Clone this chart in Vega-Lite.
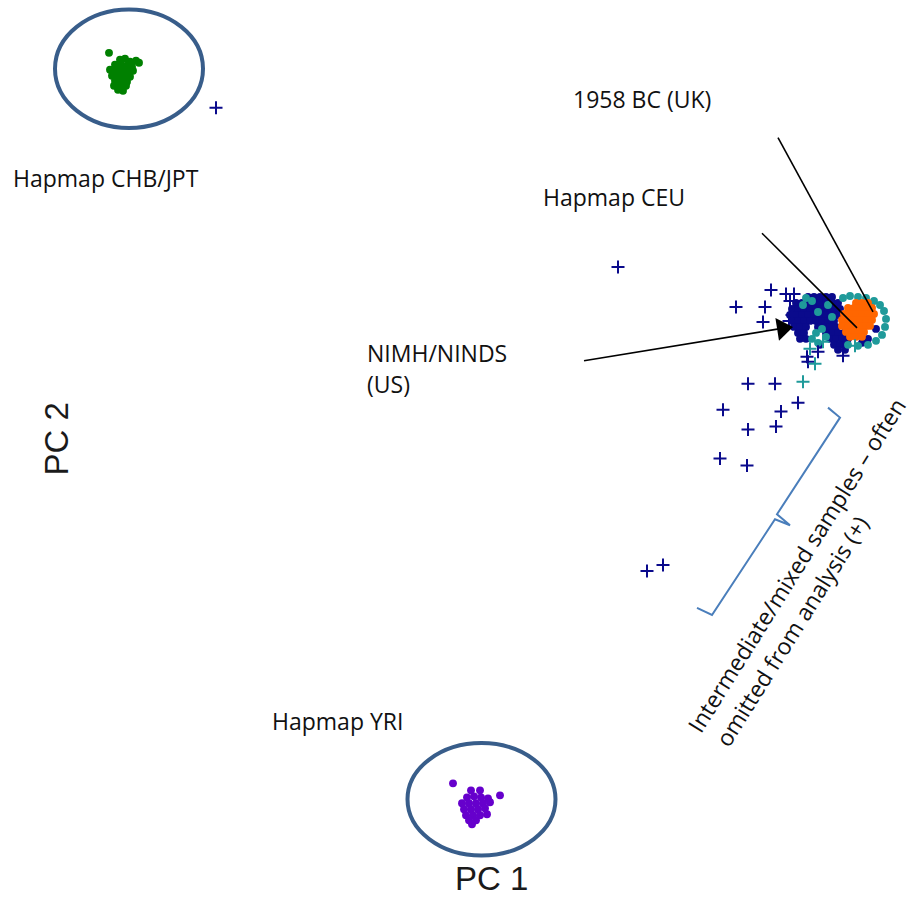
{
  "$schema": "https://vega.github.io/schema/vega-lite/v6.json",
  "width": 915,
  "height": 897,
  "autosize": {"type": "fit", "contains": "padding"},
  "padding": 0,
  "background": "white",
  "config": {"view": {"stroke": null}},
  "datasets": {
    "dots": [
      {"pc1":109,"pc2":53,"group":"CHB/JPT"},{"pc1":120,"pc2":60,"group":"CHB/JPT"},{"pc1":125,"pc2":59,"group":"CHB/JPT"},{"pc1":130,"pc2":62,"group":"CHB/JPT"},{"pc1":136,"pc2":61,"group":"CHB/JPT"},{"pc1":139,"pc2":63,"group":"CHB/JPT"},
      {"pc1":115,"pc2":65,"group":"CHB/JPT"},{"pc1":121,"pc2":65,"group":"CHB/JPT"},{"pc1":127,"pc2":66,"group":"CHB/JPT"},{"pc1":132,"pc2":67,"group":"CHB/JPT"},
      {"pc1":110,"pc2":70,"group":"CHB/JPT"},{"pc1":116,"pc2":70,"group":"CHB/JPT"},{"pc1":122,"pc2":71,"group":"CHB/JPT"},{"pc1":128,"pc2":72,"group":"CHB/JPT"},{"pc1":133,"pc2":71,"group":"CHB/JPT"},
      {"pc1":112,"pc2":76,"group":"CHB/JPT"},{"pc1":118,"pc2":76,"group":"CHB/JPT"},{"pc1":124,"pc2":77,"group":"CHB/JPT"},{"pc1":130,"pc2":77,"group":"CHB/JPT"},
      {"pc1":115,"pc2":81,"group":"CHB/JPT"},{"pc1":121,"pc2":82,"group":"CHB/JPT"},{"pc1":127,"pc2":82,"group":"CHB/JPT"},
      {"pc1":114,"pc2":86,"group":"CHB/JPT"},{"pc1":120,"pc2":87,"group":"CHB/JPT"},{"pc1":126,"pc2":86,"group":"CHB/JPT"},{"pc1":118,"pc2":90,"group":"CHB/JPT"},{"pc1":123,"pc2":91,"group":"CHB/JPT"},

      {"pc1":453,"pc2":786,"group":"YRI"},{"pc1":471,"pc2":793,"group":"YRI"},{"pc1":480,"pc2":793,"group":"YRI"},{"pc1":500,"pc2":798,"group":"YRI"},
      {"pc1":467,"pc2":800,"group":"YRI"},{"pc1":474,"pc2":799,"group":"YRI"},{"pc1":481,"pc2":800,"group":"YRI"},{"pc1":488,"pc2":801,"group":"YRI"},
      {"pc1":462,"pc2":806,"group":"YRI"},{"pc1":469,"pc2":806,"group":"YRI"},{"pc1":476,"pc2":806,"group":"YRI"},{"pc1":483,"pc2":806,"group":"YRI"},{"pc1":490,"pc2":805,"group":"YRI"},
      {"pc1":464,"pc2":812,"group":"YRI"},{"pc1":471,"pc2":812,"group":"YRI"},{"pc1":478,"pc2":812,"group":"YRI"},{"pc1":485,"pc2":811,"group":"YRI"},
      {"pc1":466,"pc2":818,"group":"YRI"},{"pc1":473,"pc2":818,"group":"YRI"},{"pc1":480,"pc2":818,"group":"YRI"},{"pc1":487,"pc2":817,"group":"YRI"},
      {"pc1":469,"pc2":823,"group":"YRI"},{"pc1":476,"pc2":823,"group":"YRI"},{"pc1":472,"pc2":827,"group":"YRI"},

      {"pc1":808,"pc2":298,"group":"NIMH"},{"pc1":814,"pc2":298,"group":"NIMH"},{"pc1":820,"pc2":298,"group":"NIMH"},{"pc1":826,"pc2":298,"group":"NIMH"},{"pc1":832,"pc2":298,"group":"NIMH"},
      {"pc1":796,"pc2":304,"group":"NIMH"},{"pc1":802,"pc2":304,"group":"NIMH"},{"pc1":808,"pc2":304,"group":"NIMH"},{"pc1":814,"pc2":304,"group":"NIMH"},{"pc1":820,"pc2":304,"group":"NIMH"},{"pc1":826,"pc2":304,"group":"NIMH"},{"pc1":832,"pc2":304,"group":"NIMH"},{"pc1":838,"pc2":304,"group":"NIMH"},
      {"pc1":792,"pc2":310,"group":"NIMH"},{"pc1":798,"pc2":310,"group":"NIMH"},{"pc1":804,"pc2":310,"group":"NIMH"},{"pc1":810,"pc2":310,"group":"NIMH"},{"pc1":816,"pc2":310,"group":"NIMH"},{"pc1":822,"pc2":310,"group":"NIMH"},{"pc1":828,"pc2":310,"group":"NIMH"},{"pc1":834,"pc2":310,"group":"NIMH"},{"pc1":840,"pc2":310,"group":"NIMH"},
      {"pc1":790,"pc2":316,"group":"NIMH"},{"pc1":796,"pc2":316,"group":"NIMH"},{"pc1":802,"pc2":316,"group":"NIMH"},{"pc1":808,"pc2":316,"group":"NIMH"},{"pc1":814,"pc2":316,"group":"NIMH"},{"pc1":820,"pc2":316,"group":"NIMH"},{"pc1":826,"pc2":316,"group":"NIMH"},{"pc1":832,"pc2":316,"group":"NIMH"},{"pc1":838,"pc2":316,"group":"NIMH"},
      {"pc1":792,"pc2":322,"group":"NIMH"},{"pc1":798,"pc2":322,"group":"NIMH"},{"pc1":804,"pc2":322,"group":"NIMH"},{"pc1":810,"pc2":322,"group":"NIMH"},{"pc1":816,"pc2":322,"group":"NIMH"},{"pc1":822,"pc2":322,"group":"NIMH"},{"pc1":828,"pc2":322,"group":"NIMH"},{"pc1":834,"pc2":322,"group":"NIMH"},
      {"pc1":794,"pc2":328,"group":"NIMH"},{"pc1":800,"pc2":328,"group":"NIMH"},{"pc1":806,"pc2":328,"group":"NIMH"},{"pc1":818,"pc2":328,"group":"NIMH"},{"pc1":824,"pc2":328,"group":"NIMH"},{"pc1":830,"pc2":328,"group":"NIMH"},{"pc1":836,"pc2":328,"group":"NIMH"},
      {"pc1":798,"pc2":334,"group":"NIMH"},{"pc1":804,"pc2":334,"group":"NIMH"},{"pc1":826,"pc2":334,"group":"NIMH"},{"pc1":832,"pc2":334,"group":"NIMH"},{"pc1":838,"pc2":334,"group":"NIMH"},{"pc1":844,"pc2":334,"group":"NIMH"},
      {"pc1":800,"pc2":340,"group":"NIMH"},{"pc1":806,"pc2":340,"group":"NIMH"},{"pc1":830,"pc2":340,"group":"NIMH"},{"pc1":836,"pc2":340,"group":"NIMH"},{"pc1":842,"pc2":340,"group":"NIMH"},{"pc1":848,"pc2":340,"group":"NIMH"},
      {"pc1":820,"pc2":346,"group":"NIMH"},{"pc1":834,"pc2":346,"group":"NIMH"},{"pc1":840,"pc2":346,"group":"NIMH"},{"pc1":846,"pc2":346,"group":"NIMH"},{"pc1":838,"pc2":351,"group":"NIMH"},{"pc1":845,"pc2":351,"group":"NIMH"},
      {"pc1":870,"pc2":318,"group":"NIMH"},{"pc1":876,"pc2":330,"group":"NIMH"},{"pc1":868,"pc2":340,"group":"NIMH"},{"pc1":862,"pc2":344,"group":"NIMH"},

      {"pc1":806,"pc2":299,"group":"1958BC"},{"pc1":812,"pc2":302,"group":"1958BC"},{"pc1":803,"pc2":306,"group":"1958BC"},
      {"pc1":843,"pc2":299,"group":"1958BC"},{"pc1":850,"pc2":297,"group":"1958BC"},{"pc1":858,"pc2":298,"group":"1958BC"},{"pc1":866,"pc2":299,"group":"1958BC"},{"pc1":874,"pc2":302,"group":"1958BC"},{"pc1":880,"pc2":306,"group":"1958BC"},
      {"pc1":884,"pc2":312,"group":"1958BC"},{"pc1":886,"pc2":320,"group":"1958BC"},{"pc1":885,"pc2":328,"group":"1958BC"},{"pc1":882,"pc2":336,"group":"1958BC"},{"pc1":876,"pc2":342,"group":"1958BC"},{"pc1":868,"pc2":346,"group":"1958BC"},{"pc1":858,"pc2":347,"group":"1958BC"},{"pc1":848,"pc2":346,"group":"1958BC"},
      {"pc1":822,"pc2":330,"group":"1958BC"},{"pc1":816,"pc2":334,"group":"1958BC"},{"pc1":812,"pc2":340,"group":"1958BC"},{"pc1":818,"pc2":344,"group":"1958BC"},{"pc1":826,"pc2":338,"group":"1958BC"},
      {"pc1":832,"pc2":318,"group":"1958BC"},{"pc1":828,"pc2":306,"group":"1958BC"},{"pc1":818,"pc2":313,"group":"1958BC"},

      {"pc1":856,"pc2":304,"group":"CEU"},{"pc1":862,"pc2":304,"group":"CEU"},{"pc1":868,"pc2":304,"group":"CEU"},
      {"pc1":848,"pc2":309,"group":"CEU"},{"pc1":854,"pc2":309,"group":"CEU"},{"pc1":860,"pc2":309,"group":"CEU"},{"pc1":866,"pc2":309,"group":"CEU"},{"pc1":872,"pc2":309,"group":"CEU"},
      {"pc1":844,"pc2":315,"group":"CEU"},{"pc1":850,"pc2":315,"group":"CEU"},{"pc1":856,"pc2":315,"group":"CEU"},{"pc1":862,"pc2":315,"group":"CEU"},{"pc1":868,"pc2":315,"group":"CEU"},{"pc1":874,"pc2":315,"group":"CEU"},
      {"pc1":842,"pc2":321,"group":"CEU"},{"pc1":848,"pc2":321,"group":"CEU"},{"pc1":854,"pc2":321,"group":"CEU"},{"pc1":860,"pc2":321,"group":"CEU"},{"pc1":866,"pc2":321,"group":"CEU"},{"pc1":872,"pc2":321,"group":"CEU"},
      {"pc1":842,"pc2":327,"group":"CEU"},{"pc1":848,"pc2":327,"group":"CEU"},{"pc1":854,"pc2":327,"group":"CEU"},{"pc1":860,"pc2":327,"group":"CEU"},{"pc1":866,"pc2":327,"group":"CEU"},{"pc1":870,"pc2":327,"group":"CEU"},
      {"pc1":846,"pc2":333,"group":"CEU"},{"pc1":852,"pc2":333,"group":"CEU"},{"pc1":858,"pc2":333,"group":"CEU"},{"pc1":864,"pc2":333,"group":"CEU"},
      {"pc1":850,"pc2":338,"group":"CEU"},{"pc1":856,"pc2":338,"group":"CEU"},{"pc1":862,"pc2":338,"group":"CEU"}
    ],
    "crosses": [
      {"pc1":216,"pc2":108,"group":"NIMH"},{"pc1":618,"pc2":268,"group":"NIMH"},{"pc1":771,"pc2":291,"group":"NIMH"},{"pc1":786,"pc2":295,"group":"NIMH"},{"pc1":794,"pc2":295,"group":"NIMH"},
      {"pc1":736,"pc2":308,"group":"NIMH"},{"pc1":765,"pc2":308,"group":"NIMH"},{"pc1":763,"pc2":323,"group":"NIMH"},{"pc1":790,"pc2":302,"group":"NIMH"},{"pc1":792,"pc2":316,"group":"NIMH"},{"pc1":789,"pc2":322,"group":"NIMH"},
      {"pc1":807,"pc2":358,"group":"NIMH"},{"pc1":818,"pc2":353,"group":"NIMH"},{"pc1":843,"pc2":357,"group":"NIMH"},{"pc1":808,"pc2":363,"group":"NIMH"},
      {"pc1":748,"pc2":385,"group":"NIMH"},{"pc1":775,"pc2":385,"group":"NIMH"},{"pc1":798,"pc2":404,"group":"NIMH"},{"pc1":723,"pc2":411,"group":"NIMH"},{"pc1":781,"pc2":413,"group":"NIMH"},
      {"pc1":748,"pc2":431,"group":"NIMH"},{"pc1":776,"pc2":428,"group":"NIMH"},{"pc1":720,"pc2":460,"group":"NIMH"},{"pc1":747,"pc2":467,"group":"NIMH"},{"pc1":647,"pc2":573,"group":"NIMH"},{"pc1":663,"pc2":567,"group":"NIMH"},
      {"pc1":815,"pc2":365,"group":"1958BC"},{"pc1":803,"pc2":383,"group":"1958BC"},{"pc1":810,"pc2":350,"group":"1958BC"},{"pc1":823,"pc2":343,"group":"1958BC"},{"pc1":855,"pc2":347,"group":"1958BC"}
    ],
    "rings": [
      {"pc1":129,"pc2":69,"ring":"CHB/JPT"},
      {"pc1":481.5,"pc2":802,"ring":"YRI"}
    ],
    "pointers": [
      {"pc1":778,"pc2":138,"pc1e":873,"pc2e":313},
      {"pc1":762,"pc2":234,"pc1e":857,"pc2e":329},
      {"pc1":584,"pc2":362,"pc1e":785,"pc2e":329}
    ],
    "heads": [{"pc1":793,"pc2":328}],
    "brace": [
      {"i":1,"pc1":828,"pc2":409},{"i":2,"pc1":840,"pc2":419},{"i":3,"pc1":777,"pc2":516},{"i":4,"pc1":790,"pc2":527},
      {"i":5,"pc1":775,"pc2":521},{"i":6,"pc1":712,"pc2":617},{"i":7,"pc1":697,"pc2":610}
    ],
    "labels": [
      {"pc1":13,"pc2":188,"label":"Hapmap CHB/JPT"},
      {"pc1":573,"pc2":108,"label":"1958 BC (UK)"},
      {"pc1":543,"pc2":207,"label":"Hapmap CEU"},
      {"pc1":367,"pc2":363,"label":"NIMH/NINDS"},
      {"pc1":367,"pc2":394,"label":"(US)"},
      {"pc1":272,"pc2":732,"label":"Hapmap YRI"}
    ],
    "note": [
      {"pc1":701,"pc2":737,"label":"Intermediate/mixed samples – often"},
      {"pc1":729,"pc2":751,"label":"omitted from analysis (+)"}
    ],
    "axisTitles": [
      {"pc1":455,"pc2":893,"label":"PC 1","rot":0},
      {"pc1":68,"pc2":477,"label":"PC 2","rot":-90}
    ]
  },
  "layer": [
    {
      "data": {"name": "rings"},
      "mark": {"type": "point", "filled": false, "stroke": "#385D8A", "strokeWidth": 4, "size": 21904, "opacity": 1},
      "encoding": {
        "x": {"field": "pc1", "type": "quantitative", "scale": {"domain": [0, 915], "nice": false, "zero": false}, "axis": null},
        "y": {"field": "pc2", "type": "quantitative", "scale": {"domain": [0, 897], "nice": false, "zero": false, "reverse": true}, "axis": null},
        "shape": {"field": "ring", "type": "nominal", "scale": {"domain": ["CHB/JPT", "YRI"], "range": ["M -1 0 A 1 0.8 0 1 1 1 0 A 1 0.8 0 1 1 -1 0 Z", "M -1 0 A 1 0.76 0 1 1 1 0 A 1 0.76 0 1 1 -1 0 Z"]}, "legend": null}
      }
    },
    {
      "data": {"name": "dots"},
      "mark": {"type": "circle", "size": 62, "opacity": 1},
      "encoding": {
        "x": {"field": "pc1", "type": "quantitative"},
        "y": {"field": "pc2", "type": "quantitative"},
        "color": {"field": "group", "type": "nominal", "scale": {"domain": ["CHB/JPT", "YRI", "NIMH", "1958BC", "CEU"], "range": ["#008000", "#6600CC", "#0A0A8C", "#1F9A9A", "#FF6600"]}, "legend": null}
      }
    },
    {
      "data": {"name": "crosses"},
      "mark": {"type": "point", "shape": "M -1 0 L 1 0 M 0 -1 L 0 1", "filled": false, "strokeWidth": 2, "size": 169, "opacity": 1},
      "encoding": {
        "x": {"field": "pc1", "type": "quantitative"},
        "y": {"field": "pc2", "type": "quantitative"},
        "color": {"field": "group", "type": "nominal", "legend": null}
      }
    },
    {
      "data": {"name": "pointers"},
      "mark": {"type": "rule", "color": "black", "strokeWidth": 1.6},
      "encoding": {
        "x": {"field": "pc1", "type": "quantitative"},
        "y": {"field": "pc2", "type": "quantitative"},
        "x2": {"field": "pc1e"},
        "y2": {"field": "pc2e"}
      }
    },
    {
      "data": {"name": "heads"},
      "mark": {"type": "point", "shape": "M 0 0 L -1 -0.72 L -1 0.72 Z", "filled": true, "color": "black", "size": 1024, "angle": -9, "opacity": 1},
      "encoding": {
        "x": {"field": "pc1", "type": "quantitative"},
        "y": {"field": "pc2", "type": "quantitative"}
      }
    },
    {
      "data": {"name": "brace"},
      "mark": {"type": "line", "color": "#4A7EBB", "strokeWidth": 2},
      "encoding": {
        "x": {"field": "pc1", "type": "quantitative"},
        "y": {"field": "pc2", "type": "quantitative"},
        "order": {"field": "i", "type": "quantitative"}
      }
    },
    {
      "data": {"name": "labels"},
      "mark": {"type": "text", "font": "Open Sans", "fontSize": 23, "align": "left", "baseline": "alphabetic", "color": "#111111"},
      "encoding": {
        "x": {"field": "pc1", "type": "quantitative"},
        "y": {"field": "pc2", "type": "quantitative"},
        "text": {"field": "label", "type": "nominal"}
      }
    },
    {
      "data": {"name": "note"},
      "mark": {"type": "text", "font": "Open Sans", "fontSize": 23, "align": "left", "baseline": "alphabetic", "color": "#111111", "angle": -58},
      "encoding": {
        "x": {"field": "pc1", "type": "quantitative"},
        "y": {"field": "pc2", "type": "quantitative"},
        "text": {"field": "label", "type": "nominal"}
      }
    },
    {
      "data": {"name": "axisTitles"},
      "mark": {"type": "text", "font": "Liberation Sans", "fontSize": 33, "align": "left", "baseline": "alphabetic", "color": "#1a1a1a"},
      "encoding": {
        "x": {"field": "pc1", "type": "quantitative"},
        "y": {"field": "pc2", "type": "quantitative"},
        "text": {"field": "label", "type": "nominal"},
        "angle": {"field": "rot", "type": "quantitative", "scale": null}
      }
    }
  ]
}
